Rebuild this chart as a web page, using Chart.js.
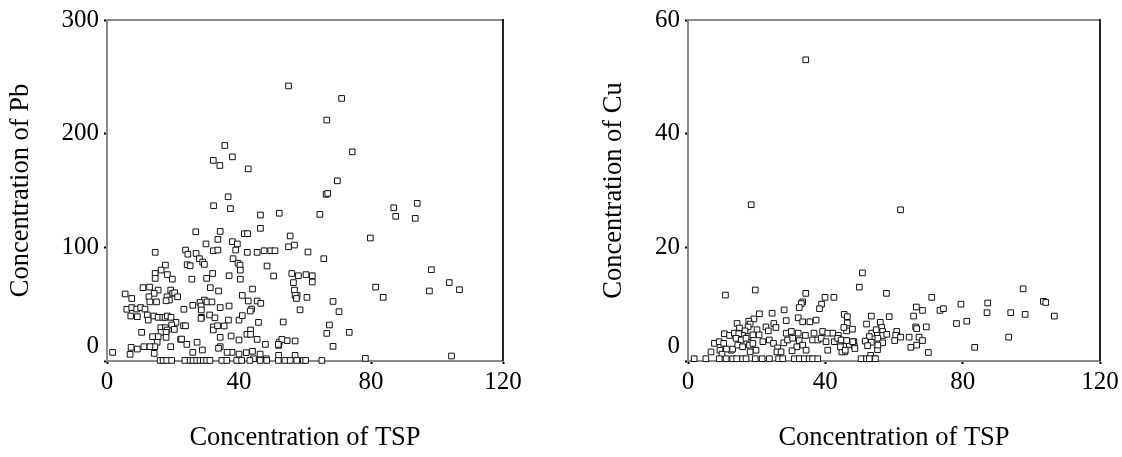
<!DOCTYPE html>
<html>
<head>
<meta charset="utf-8">
<script src="https://cdn.jsdelivr.net/npm/chart.js@4"></script>
<style>
  html, body { margin: 0; padding: 0; background: #fff; }
  #wrap { position: relative; width: 1122px; height: 457px; }
  .box { position: absolute; top: 0; height: 457px; }
</style>
</head>
<body>
<div id="wrap">
  <div class="box" style="left:0; width:560px"><canvas id="pbChart"></canvas></div>
  <div class="box" style="left:593px; width:529px"><canvas id="cuChart"></canvas></div>
</div>
<script>
// [TSP, Pb] pairs
const pbPoints = [
  [55,242],[71.1,231],[66.6,212],[74.3,184],[69.8,158.5],[66.4,146.6],[66.9,147.4],[35.7,189.6],
  [32.2,176.5],[34.2,172],[38,179.6],[42.8,169],[36.7,144.5],[37.4,134],[32.3,136.6],[46.5,128.4],
  [52.2,130],[46.5,116.7],[64.5,129],[86.9,134.8],[94,138.7],[87.5,127.3],[93.4,125.5],[79.8,108.2],
  [60.9,95.9],[65.7,90],[98.3,80.3],[103.7,69],[106.8,62.7],[97.7,61.6],[81.4,65],[83.7,56],
  [44.1,63.3],[60.3,76],[62.2,75],[62.2,69.5],[60.6,56],[68.5,52.4],[70.3,43.4],[67.4,31.7],
  [66.6,24.3],[73.4,25.2],[68.5,12.9],[78.3,2.3],[104.4,4.4],[52.2,16.7],[52,13.7],[54.6,17.9],
  [57.6,57.7],[56.8,62.4],[44.1,8.5],
  [26.9,113.7],[34.3,114],[38,105],[39.5,103],[41.6,112],[42.6,112],[55.5,110],[55,100.5],
  [56.8,102],[30,103],[33.6,107],[14.6,95.6],[23.8,97.6],[24.5,94],[27,94.6],[32.2,97],
  [33.6,97.6],[39,97.6],[42.5,95.6],[45.5,95.6],[47.6,97],[49.6,97],[50.9,97],[28,90],
  [29,87],[29.5,85],[38.2,90],[39.7,86],[40.3,84.4],[40.4,80],[48.5,83.6],[24.3,84.7],
  [25.2,83.8],[17.7,84.4],[16.4,80],[18.3,76],[19.8,72],[14.6,77],[14.6,72.7],[32,77],
  [37,75],[40.4,72],[30.2,72.7],[25.7,72],[50.5,74.8],[56,77],[58,75],[56.5,69],
  [12.9,65],[10.9,64.5],[15.5,62.4],[14.3,59.5],[12.7,56.5],[19.3,62.4],[19.9,59.5],[20.5,60],
  [18.2,56.5],[18.9,53.6],[17.9,53],[21.4,56.5],[31.3,64.5],[33.8,61.6],[41,57.7],[5.5,59],
  [7.5,55],[57,57.7],[57.4,55],[13,52],[15,52],[29.5,53.6],[28.2,51.5],[30.3,52],
  [31.8,52],[42.8,52.8],[45.5,52.8],[46.6,50.7],[26,49],[28.5,48.4],[34.3,47],[37,48.4],
  [6,45.5],[7.5,47],[9,45.7],[10.2,47],[11.5,45.7],[23.3,45.5],[28.6,44.9],[28.6,38.4],
  [43.8,45.7],[43.4,44],[58.5,45],[7.2,39.6],[9.2,39],[12.2,40.5],[12.5,36],[14.2,39.6],
  [15.5,38.4],[16.9,38.4],[17.6,38.4],[18.3,39.6],[19.4,38.4],[20.9,34],[19.6,31.7],[28.5,37.5],
  [31.1,40.5],[32.7,38],[36.8,36],[40,36],[41,39.9],[45.9,34],[53.4,34.3],[23.2,31],
  [23.8,31],[32.2,30],[32.2,27.3],[16.3,29.3],[17.7,29.3],[18.2,27.3],[20.4,27.8],[33.5,31],
  [35.5,30.8],[10.5,25.2],[16.4,25.2],[17.9,25.2],[17.9,20.8],[15.5,21.4],[13.8,21.4],[22.3,19],
  [22.6,19.3],[27.3,16.5],[24.2,14.6],[34.3,20.8],[37.6,22],[40,18.5],[42.4,23.5],[43.5,27.3],
  [43.5,23.5],[45.5,19],[48,14.6],[53,19],[51.9,14.6],[57,17.6],[15.2,16.5],[14.5,12.6],
  [13,12.6],[7.3,12],[9.2,10.5],[11.2,12.6],[19.3,12.6],[34.3,12.6],[33.8,11.2],[26,7.6],
  [28.9,9.7],[37.9,7.6],[36.4,7.6],[40,6.1],[1.7,7.6],[7,5.9],[14.3,6.7],[42.2,7.3],
  [46.4,6.1],[44.4,2],[48.3,2],[52,5],[57,5],
  [16.1,0.5],[17,0.5],[18.1,0.5],[19.6,0.5],[23.6,0.5],[25.2,0.5],[26.1,0.5],[27.2,0.5],
  [28.2,0.5],[29.2,0.5],[30.2,0.5],[31.2,0.5],[34.8,0.5],[36.3,0.5],[39.3,0.5],[40.8,0.5],
  [43.3,0.5],[46.4,0.5],[48.4,0.5],[51.9,0.5],[53.9,0.5],[55.5,0.5],[57.5,0.5],[59.5,0.5],
  [60.2,0.5],[65.1,0.5]
];

// [TSP, Cu] pairs
const cuPoints = [
  [34.3,53],[18.4,27.5],[10.9,11.6],[19.6,12.5],[34.3,11.9],[39.9,11.2],[42.5,11.2],[49.9,13],
  [61.9,26.6],[50.8,15.5],[57.8,11.9],[71,11.2],[97.6,12.7],[103.5,10.5],[104.2,10.3],[79.5,10],
  [87.3,10.2],[73.4,8.9],[74.4,9.2],[66.5,9.5],[68.3,8.9],[65.7,7.9],[58.6,7.8],[53.4,7.9],
  [87.1,8.5],[94,8.5],[98.2,8.2],[106.7,7.9],[78.2,6.6],[81.2,7],[93.4,4.2],[83.5,2.4],
  [70,1.5],[69.4,6],[66.3,6],[66.6,5.7],[64.4,4.2],[67.3,4.2],[68.3,3.6],[64.9,2.4],
  [66.6,2.8],[60.8,5.2],[60.5,4.5],[61.9,4.2],[60.2,3.6],[56,6.8],[56.4,5.9],[56.7,5.2],
  [56.7,4.5],[55.3,4],[56.7,3.2],[57.9,4.7],[55.2,2],[53.5,4.9],[52.8,4.3],[54.8,5.5],
  [53.4,3.3],[52,6.5],[51.6,3.5],[52.3,2.7],[50.4,0.4],[52,0.4],[53.2,1],[54.3,0.4],
  [45.5,8.2],[46.4,7.8],[46.4,6.7],[47.9,5.6],[46.2,5.3],[45.4,5.9],[45.7,3.6],[47,2.9],
  [48.3,3.4],[48.4,2.6],[45.7,1.6],[44.8,1.6],
  [33.4,10.4],[33,10.1],[32.4,9.4],[38.9,10],[38.3,9.2],[28,9],[24.5,8.4],[20.8,8.3],
  [19.2,7.4],[17.7,7],[18.1,6.5],[17.5,6],[14.3,6.6],[15,5.8],[14.5,4.9],[28.6,7.1],
  [32.1,7.6],[33.4,6.9],[35.5,6.9],[37.3,7.2],[25,6.6],[25.6,5.9],[22.7,6],[23.4,5.3],
  [20.1,5.5],[20.7,4.6],[16.6,5.3],[15.9,4.5],[17.5,4.3],[18.9,4.6],[10.6,4.8],[12.1,4.5],
  [13.5,4.9],[14.8,4.8],[28.6,4.9],[30.1,5.2],[32.1,4.9],[34.2,4.5],[36.7,4.9],[39.2,5.2],
  [40.7,4.9],[42.2,4.9],[43.8,4.5],[7.7,3.1],[9.1,3.4],[10.4,3.1],[12.6,1.9],[13,2.1],
  [11.2,2.1],[9.3,1.9],[6.7,1.6],[9.9,1.2],[14,4],[15.5,3.7],[16.9,4],[14.5,2.8],
  [15.9,2.5],[17.9,2.8],[18.9,3.1],[19.8,1.9],[18.1,1.6],[21.8,3.4],[23.7,3.7],[24.9,3.1],
  [26.1,2.3],[25.9,1.6],[27.1,1.6],[27.9,3.2],[29,3.7],[30.5,4],[32.4,3.6],[33.4,2.8],
  [31.7,2.5],[30.3,1.8],[34.4,1.9],[36.3,3.7],[37.8,3.7],[38.8,4],[40.2,3.4],[40.7,1.9],
  [42.6,3.4],[43.6,4],[44.4,2.5],[44.6,3.7],[45.8,1.9],[46.2,3.6],[48,3.4],[48.6,2.2],
  [55.3,2.8],
  [1.8,0.4],[5.2,0.4],[9.1,0.4],[11.1,0.4],[13,0.4],[14.2,0.4],[15.9,0.4],[16.9,0.4],
  [19.6,0.4],[21.6,0.4],[23.7,0.4],[26.4,0.4],[27.6,0.4],[31,0.4],[32.4,0.4],[33.9,0.4],
  [35.3,0.4],[36.3,0.4],[37.8,0.4],[52.8,0.4],[54.6,0.4]
];

const xTicks = [0, 40, 80, 120];
const pbTicks = [0, 100, 200, 300];
const cuTicks = [0, 20, 40, 60];

const serif = '"Liberation Serif", "Times New Roman", serif';

// top and right edge of the plot box
const framePlugin = {
  id: 'frame',
  afterUpdate(chart) {
    // the "0" on the y axis sits a bit above its tick, like the original
    const items = chart.scales.y.getLabelItems(chart.chartArea);
    items.forEach(it => {
      if (it.label === '0') {
        const t = it.options.translation;
        it.options.translation = [t[0], t[1] - 15];
      }
    });
  },
  afterDraw(chart) {
    const a = chart.chartArea;
    const ctx = chart.ctx;
    ctx.save();
    ctx.lineWidth = 2;
    ctx.strokeStyle = '#8a8a8a';
    ctx.beginPath();
    ctx.moveTo(a.left, a.top);
    ctx.lineTo(a.right, a.top);
    ctx.stroke();
    ctx.strokeStyle = '#222';
    ctx.beginPath();
    ctx.moveTo(a.right, a.top - 1);
    ctx.lineTo(a.right, a.bottom);
    ctx.stroke();
    ctx.restore();
  }
};

function makeChart(id, points, yTicks, yTitle, yWidth, padRight) {
  const ctx = document.getElementById(id).getContext('2d');
  return new Chart(ctx, {
    type: 'scatter',
    data: {
      datasets: [{
        data: points.map(p => ({ x: p[0], y: p[1] })),
        pointStyle: 'rect',
        pointRadius: 4,
        pointHoverRadius: 4,
        borderWidth: 1,
        borderColor: '#111',
        backgroundColor: '#fff',
        clip: false
      }]
    },
    options: {
      responsive: true,
      maintainAspectRatio: false,
      animation: false,
      layout: { padding: { top: 20, right: padRight, bottom: 0, left: 0 } },
      plugins: { legend: { display: false }, tooltip: { enabled: false } },
      scales: {
        x: {
          type: 'linear',
          min: xTicks[0],
          max: xTicks[xTicks.length - 1],
          afterBuildTicks: s => { s.ticks = xTicks.map(v => ({ value: v })); },
          afterFit: s => { s.height = 96; },
          ticks: { color: '#000', padding: 3, maxRotation: 0, font: { family: serif, size: 25 } },
          grid: { drawOnChartArea: false, drawTicks: true, tickLength: 3, tickWidth: 2, tickColor: '#000' },
          border: { display: true, color: '#8a8a8a', width: 2 },
          title: {
            display: true,
            text: 'Concentration of TSP',
            color: '#000',
            font: { family: serif, size: 26.5 },
            padding: { top: 0, bottom: 3 }
          }
        },
        y: {
          type: 'linear',
          min: yTicks[0],
          max: yTicks[yTicks.length - 1],
          afterBuildTicks: s => { s.ticks = yTicks.map(v => ({ value: v })); },
          afterFit: s => { s.width = yWidth; },
          ticks: { color: '#000', padding: 5, font: { family: serif, size: 25 } },
          grid: { drawOnChartArea: false, drawTicks: true, tickLength: 3, tickWidth: 2, tickColor: '#000' },
          border: { display: true, color: '#8a8a8a', width: 2 },
          title: {
            display: true,
            text: yTitle,
            color: '#000',
            font: { family: serif, size: 26.5 },
            padding: { top: 5, bottom: 0 }
          }
        }
      }
    },
    plugins: [framePlugin]
  });
}

makeChart('pbChart', pbPoints, pbTicks, 'Concentration of Pb', 107, 57);
makeChart('cuChart', cuPoints, cuTicks, 'Concentration of Cu', 95, 22);
</script>
</body>
</html>
